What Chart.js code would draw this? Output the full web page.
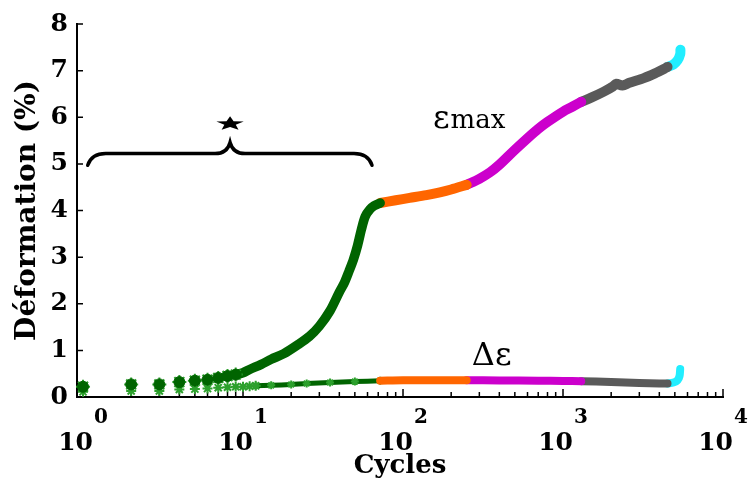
<!DOCTYPE html>
<html>
<head>
<meta charset="utf-8">
<script src="https://cdn.jsdelivr.net/npm/chart.js@4.4.1/dist/chart.umd.min.js"></script>
<style>
  html, body { margin: 0; padding: 0; background: #fff; }
</style>
</head>
<body>
<canvas id="doThi" width="751" height="484"></canvas>
<script>
// --- epsilon max (%) par phase de couleur ---
var cyclesVert1 = [1, 2, 3, 4, 5, 6, 7, 8, 9];
var epsMaxVert1 = [0.22, 0.27, 0.27, 0.32, 0.35, 0.37, 0.41, 0.45, 0.48];
var cyclesVert2 = [9, 10, 11, 13, 15, 18, 22, 26, 30, 35, 40, 43, 46, 49, 52, 55, 58, 62, 66, 72];
var epsMaxVert2 = [0.48, 0.52, 0.59, 0.70, 0.81, 0.93, 1.12, 1.30, 1.52, 1.85, 2.25, 2.45, 2.70, 2.95, 3.25, 3.60, 3.87, 4.02, 4.10, 4.16];
var cyclesOrange = [72, 90, 110, 140, 170, 200, 250];
var epsMaxOrange = [4.16, 4.22, 4.27, 4.33, 4.39, 4.45, 4.55];
var cyclesMagenta = [250, 300, 350, 400, 500, 600, 700, 800, 1000, 1150, 1300];
var epsMaxMagenta = [4.55, 4.68, 4.82, 4.98, 5.30, 5.55, 5.75, 5.90, 6.12, 6.23, 6.33];
var cyclesGris = [1300, 1500, 1800, 2050, 2150, 2350, 2600, 3200, 3800, 4300, 4500];
var epsMaxGris = [6.33, 6.42, 6.55, 6.66, 6.72, 6.68, 6.74, 6.84, 6.95, 7.04, 7.08];
var cyclesCyan = [4500, 4900, 5200, 5400, 5420];
var epsMaxCyan = [7.08, 7.13, 7.22, 7.35, 7.45];

// --- delta epsilon (%) ---
var cyclesDVert1 = [1, 2, 3, 4, 5, 6, 7, 8, 9, 10, 11, 12];
var deltaVert1 = [0.11, 0.13, 0.13, 0.16, 0.17, 0.18, 0.20, 0.21, 0.22, 0.22, 0.23, 0.24];
var cyclesDVert2 = [12, 15, 20, 25, 35, 50, 72];
var deltaVert2 = [0.24, 0.25, 0.27, 0.29, 0.31, 0.33, 0.35];
var cyclesDOrange = [72, 100, 150, 250];
var deltaOrange = [0.35, 0.36, 0.36, 0.36];
var cyclesDMagenta = [250, 400, 700, 1000, 1300];
var deltaMagenta = [0.36, 0.355, 0.35, 0.345, 0.34];
var cyclesDGris = [1300, 2000, 3000, 4000, 4500];
var deltaGris = [0.34, 0.32, 0.30, 0.29, 0.29];
var cyclesDCyan = [4500, 4900, 5200, 5350, 5400];
var deltaCyan = [0.29, 0.31, 0.36, 0.45, 0.60];

// --- axes ---
var yTicks = [0, 1, 2, 3, 4, 5, 6, 7, 8];
var xMajor = [1, 10, 100, 1000, 10000];
var xExposant = ['0', '1', '2', '3', '4'];
var xMin = 0.917;

// --- annotations (en unites des donnees) ---
var accoladeN = [1.07, 8.3, 64];        // gauche, pointe, droite
var accoladeV = [4.97, 5.22, 5.46];     // bouts, barre, pointe
var etoile = { n: 8.3, v: 5.86 };
var texteEpsMax = { n: 154, v: 5.76 };
var texteDelta = { n: 269, v: 0.68 };

var VERT = '#006400', VERT_CLAIR = '#2ca02c', ORANGE = '#ff6600',
    MAGENTA = '#cc00cc', GRIS = '#5a5a5a', CYAN = '#22eeff';

function points(xs, ys) {
    return xs.map(function (x, i) { return { x: x, y: ys[i] }; });
}
function ligne(xs, ys, color, width, order) {
    return {
        data: points(xs, ys), showLine: true, borderColor: color, borderWidth: width,
        borderCapStyle: 'round', borderJoinStyle: 'round', tension: 0.3,
        pointRadius: 0, clip: false, order: order
    };
}

var decor = {
    id: 'decor',
    beforeDatasetsDraw: function (chart) {
        var ctx = chart.ctx, sx = chart.scales.x, sy = chart.scales.y, a = chart.chartArea;
        ctx.save();
        ctx.strokeStyle = '#000';
        ctx.lineWidth = 1.5;
        ctx.beginPath();
        yTicks.forEach(function (v) {
            var py = sy.getPixelForValue(v);
            ctx.moveTo(a.left, py); ctx.lineTo(a.left + 6, py);
        });
        xMajor.forEach(function (v, k) {
            var px = sx.getPixelForValue(v);
            ctx.moveTo(px, a.bottom); ctx.lineTo(px, a.bottom - 8);
            if (k < xMajor.length - 1) {
                for (var m = 2; m <= 9; m++) {
                    var pm = sx.getPixelForValue(v * m);
                    ctx.moveTo(pm, a.bottom); ctx.lineTo(pm, a.bottom - 5);
                }
            }
        });
        ctx.stroke();
        ctx.restore();
    },
    afterDraw: function (chart) {
        var ctx = chart.ctx, sx = chart.scales.x, sy = chart.scales.y;
        ctx.save();
        ctx.fillStyle = '#000';
        ctx.textBaseline = 'alphabetic';
        // etiquettes 10^k
        xMajor.forEach(function (v, k) {
            var px = sx.getPixelForValue(v);
            ctx.font = 'bold 25px "DejaVu Serif"';
            var w1 = ctx.measureText('10').width;
            ctx.font = 'bold 20px "DejaVu Serif"';
            var w2 = ctx.measureText(xExposant[k]).width;
            var left = px - (w1 + 1 + w2) / 2;
            ctx.font = 'bold 25px "DejaVu Serif"';
            ctx.fillText('10', left, 450);
            ctx.font = 'bold 20px "DejaVu Serif"';
            ctx.fillText(xExposant[k], left + w1 + 1, 423);
        });

        // accolade
        var xl = sx.getPixelForValue(accoladeN[0]), xm = sx.getPixelForValue(accoladeN[1]),
            xr = sx.getPixelForValue(accoladeN[2]);
        var yb = sy.getPixelForValue(accoladeV[0]), yh = sy.getPixelForValue(accoladeV[1]),
            yt = sy.getPixelForValue(accoladeV[2]);
        ctx.strokeStyle = '#000';
        ctx.lineWidth = 3.5;
        ctx.lineCap = 'round';
        ctx.beginPath();
        ctx.moveTo(xl, yb);
        ctx.quadraticCurveTo(xl + 4, yh, xl + 18, yh);
        ctx.lineTo(xm - 15, yh);
        ctx.quadraticCurveTo(xm - 3, yh, xm, yt);
        ctx.quadraticCurveTo(xm + 3, yh, xm + 15, yh);
        ctx.lineTo(xr - 18, yh);
        ctx.quadraticCurveTo(xr - 4, yh, xr, yb);
        ctx.stroke();

        // etoile
        var ex = sx.getPixelForValue(etoile.n), ey = sy.getPixelForValue(etoile.v);
        ctx.save();
        ctx.translate(ex, ey);
        ctx.scale(1.25, 0.65);
        ctx.beginPath();
        for (var i = 0; i < 10; i++) {
            var r = i % 2 === 0 ? 11.5 : 4.8;
            var ang = -Math.PI / 2 + i * Math.PI / 5;
            if (i === 0) ctx.moveTo(r * Math.cos(ang), r * Math.sin(ang));
            else ctx.lineTo(r * Math.cos(ang), r * Math.sin(ang));
        }
        ctx.closePath();
        ctx.fill();
        ctx.restore();

        // textes
        var tx = sx.getPixelForValue(texteEpsMax.n), ty = sy.getPixelForValue(texteEpsMax.v);
        ctx.font = '32px "DejaVu Serif"';
        ctx.fillText('ε', tx, ty);
        var we = ctx.measureText('ε').width;
        ctx.font = '26px "DejaVu Serif"';
        ctx.fillText('max', tx + we + 1, ty);

        var dx = sx.getPixelForValue(texteDelta.n), dy = sy.getPixelForValue(texteDelta.v);
        ctx.font = '32px "DejaVu Serif"';
        ctx.fillText('Δε', dx, dy);
        ctx.restore();
    }
};

Chart.defaults.font.family = '"DejaVu Serif"';
Chart.defaults.color = '#000';

var ctx = document.getElementById('doThi').getContext('2d');
var myChart = new Chart(ctx, {
    type: 'scatter',
    data: {
        datasets: [
            { data: points(cyclesVert1, epsMaxVert1), pointStyle: 'circle', pointRadius: 5.5,
              backgroundColor: VERT, borderColor: VERT, borderWidth: 1, clip: false, order: 1 },
            { data: points(cyclesVert1, epsMaxVert1), pointStyle: 'star', pointRadius: 7,
              borderColor: VERT_CLAIR, borderWidth: 2, clip: false, order: 2 },
            ligne(cyclesVert2, epsMaxVert2, VERT, 9.5, 3),
            ligne(cyclesOrange, epsMaxOrange, ORANGE, 10, 3),
            ligne(cyclesMagenta, epsMaxMagenta, MAGENTA, 10, 3),
            ligne(cyclesGris, epsMaxGris, GRIS, 10, 3),
            ligne(cyclesCyan, epsMaxCyan, CYAN, 10, 4),
            { data: points(cyclesDVert1, deltaVert1), pointStyle: 'star', pointRadius: 5,
              borderColor: VERT_CLAIR, borderWidth: 2, clip: false, order: 5 },
            Object.assign(ligne(cyclesDVert2, deltaVert2, VERT, 5, 5),
              { pointRadius: 4, pointStyle: 'star', pointBorderColor: VERT_CLAIR, pointBorderWidth: 2 }),
            ligne(cyclesDOrange, deltaOrange, ORANGE, 8, 4),
            ligne(cyclesDMagenta, deltaMagenta, MAGENTA, 8, 4),
            ligne(cyclesDGris, deltaGris, GRIS, 8, 4),
            ligne(cyclesDCyan, deltaCyan, CYAN, 8, 5)
        ]
    },
    options: {
        responsive: false,
        animation: false,
        layout: { padding: { top: 22, right: 28, bottom: 0, left: 0 } },
        plugins: { legend: { display: false }, tooltip: { enabled: false } },
        scales: {
            x: {
                type: 'logarithmic', min: xMin, max: 10000,
                grid: { display: false, drawTicks: false },
                border: { display: true, color: '#000', width: 2 },
                ticks: { display: false },
                title: { display: true, text: 'Cycles', font: { size: 26, weight: 'bold' },
                         padding: { top: 0, bottom: 2 } },
                afterFit: function (scale) { scale.height = 87; }
            },
            y: {
                min: 0, max: 8,
                grid: { display: false, drawTicks: false },
                border: { display: true, color: '#000', width: 2 },
                ticks: { stepSize: 1, padding: 9, font: { size: 25, weight: 'bold' } },
                title: { display: true, text: 'Déformation (%)', font: { size: 28, weight: 'bold' },
                         padding: { top: 11, bottom: 0 } },
                afterFit: function (scale) { scale.width = 77; }
            }
        }
    },
    plugins: [decor]
});
</script>
</body>
</html>
